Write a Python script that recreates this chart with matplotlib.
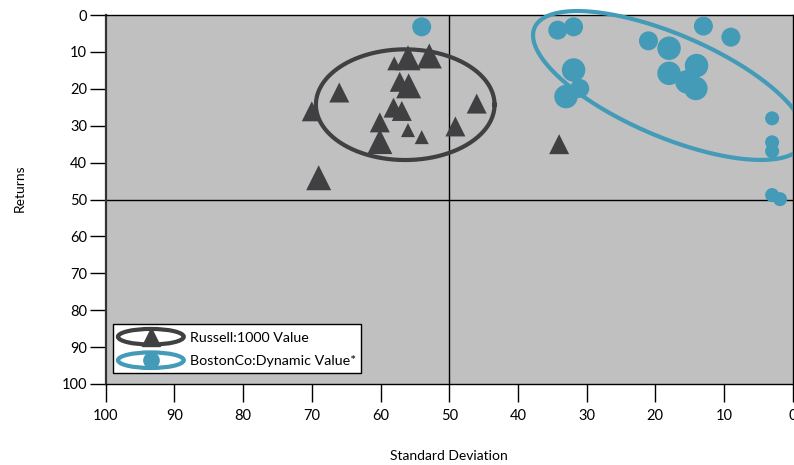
import numpy as np
import matplotlib
matplotlib.use("Agg")
from matplotlib import pyplot as plt
from matplotlib.patches import Ellipse, Rectangle
from matplotlib.lines import Line2D
from matplotlib.legend_handler import HandlerBase

plt.rcParams['font.family'] = ['Lato', 'DejaVu Sans']

# Russell 1000 Value (triangles)
russell_sd = [56.0, 52.9, 58.0, 57.2, 55.9, 66.0, 70.0, 58.1, 56.9, 60.1, 60.1, 56.0, 54.0, 46.0, 49.1, 69.0, 34.0]
russell_ret = [11.6, 11.1, 13.1, 18.1, 19.2, 21.0, 26.1, 25.1, 26.0, 29.1, 34.3, 31.2, 33.1, 24.0, 30.2, 44.1, 35.0]
russell_wt = [3, 3, 1, 2, 3, 2, 2, 2, 2, 2, 3, 1, 1, 2, 2, 3, 2]

# BostonCo Dynamic Value (circles)
boston_sd = [54.0, 34.2, 31.9, 31.9, 31.0, 33.0, 21.0, 13.0, 9.0, 18.0, 18.0, 14.0, 14.1, 15.4, 3.0, 3.0, 3.0, 3.0, 1.85]
boston_ret = [3.2, 4.1, 3.2, 14.9, 19.9, 22.1, 7.0, 3.0, 6.0, 9.0, 15.8, 13.7, 19.9, 18.1, 28.0, 34.5, 36.9, 48.8, 49.9]
boston_wt = [2, 2, 2, 3, 2, 3, 2, 2, 2, 3, 3, 3, 3, 3, 1, 1, 1, 1, 1]

# ellipses: centre sd, centre ret, half width, half height, tilt term
russell_ell = [56.4, 24.3, 13.0, 15.0, 0.0]
boston_ell = [18.0, 19.1, 19.8, 14.9, 13.6]

labels = ['Russell:1000 Value', 'BostonCo:Dynamic Value*']

dark = '#404042'
teal = '#439bb8'

tri_px = {1: 14, 2: 20, 3: 25}
dot_px = {1: 14, 2: 19, 3: 23.5}

fig = plt.figure(figsize=(7.94, 4.65), dpi=100)
ax = fig.add_axes([0.1331, 0.1742, 0.8653, 0.7935])
ax.set_facecolor('#c0c0c0')
ax.set_xlim(100, 0)
ax.set_ylim(100, 0)

ax.axvline(50, color='black', lw=1, zorder=1)
ax.axhline(50, color='black', lw=1, zorder=1)

s_tri = [(tri_px[w] * 0.72) ** 2 for w in russell_wt]
s_dot = [(dot_px[w] * 0.72) ** 2 for w in boston_wt]
ax.scatter(russell_sd, russell_ret, s=s_tri, marker='^', color=dark, linewidths=0, zorder=3)
ax.scatter(boston_sd, boston_ret, s=s_dot, marker='o', color=teal, linewidths=0, zorder=3)

t = np.linspace(0, 2 * np.pi, 400)
clip = Rectangle((0, 0), 1, 1.1, transform=ax.transAxes)
for e, c in [(russell_ell, dark), (boston_ell, teal)]:
    ex = e[0] - e[2] * np.cos(t)
    ey = e[1] + e[4] * np.cos(t) + e[3] * np.sin(t)
    ln, = ax.plot(ex, ey, color=c, lw=3, zorder=4)
    ln.set_clip_path(clip)

ax.set_xticks(range(0, 101, 10))
ax.set_yticks(range(0, 101, 10))
ax.tick_params(axis='x', direction='out', length=13, width=1, pad=5, labelsize=10.5)
ax.tick_params(axis='y', direction='out', length=11.5, width=1, pad=2, labelsize=10.5)
for side in ['top', 'bottom', 'right']:
    ax.spines[side].set_color('black')
    ax.spines[side].set_linewidth(1)
ax.spines['left'].set_color('#333333')
ax.spines['left'].set_linewidth(1.6)

ax.set_xlabel('Standard Deviation', fontsize=10)
ax.set_ylabel('Returns', fontsize=10)
ax.xaxis.set_label_coords(0.5, -0.178)
ax.yaxis.set_label_coords(-0.117, 0.53)


class EllipseHandler(HandlerBase):
    def __init__(self, color, marker, ms):
        super().__init__()
        self.color = color
        self.marker = marker
        self.ms = ms

    def create_artists(self, legend, orig_handle, xdescent, ydescent, width, height, fontsize, trans):
        cx = width / 2 - xdescent
        cy = height / 2 - ydescent
        el = Ellipse((cx, cy), width, height, fill=False, ec=self.color, lw=3, transform=trans)
        mk = Line2D([cx], [cy], marker=self.marker, ms=self.ms, color=self.color, ls='none', transform=trans)
        return [el, mk]


h1 = Line2D([], [], color=dark)
h2 = Line2D([], [], color=teal)
leg = ax.legend([h1, h2], labels, loc='lower left', bbox_to_anchor=(0.0106, 0.0298), borderaxespad=0,
                handler_map={h1: EllipseHandler(dark, '^', 12.5), h2: EllipseHandler(teal, 'o', 11)},
                handlelength=4.6, handleheight=1.3, handletextpad=0.45, labelspacing=0.55,
                borderpad=0.35, fontsize=10.3, fancybox=False, framealpha=1, edgecolor='black')
leg.get_frame().set_linewidth(1)

fig.savefig('out.png', dpi=100)
